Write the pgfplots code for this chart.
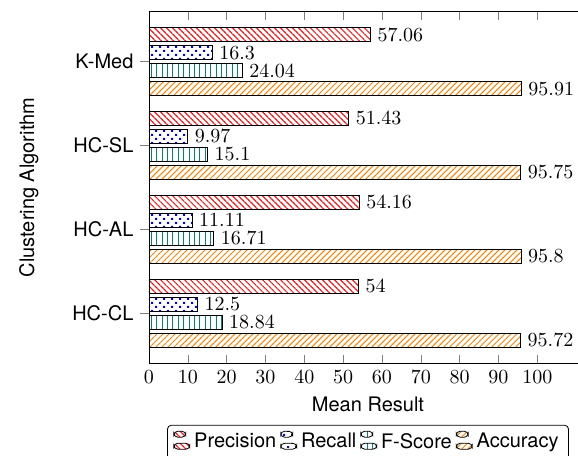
\documentclass[border=0pt]{standalone}
\usepackage{fontspec}
\setmainfont{TeX Gyre Heros}
\usepackage{pgfplots}
\pgfplotsset{compat=1.18}
\usetikzlibrary{patterns,patterns.meta}
\begin{document}
\begin{tikzpicture}
\begin{axis}[
  name=ax,
  scale only axis,
  width=219pt, height=175.8pt,
  xbar, bar width=7pt,
  y dir=reverse,
  xmin=0, xmax=112.8,
  ymin=-0.595, ymax=3.595,
  xtick={0,10,...,100},
  ytick={0,1,2,3},
  ytick align=outside,
  yticklabels={K-Med,HC-SL,HC-AL,HC-CL},
  xlabel={Mean Result},
  ylabel={Clustering Algorithm},
  ylabel shift=10pt,
  nodes near coords,
  nodes near coords align={horizontal},
  reverse legend,
  legend style={at={(0.5,-0.175)}, anchor=north, legend columns=-1, rounded corners=2pt},
]
\addplot[draw=black, pattern color=orange, pattern={Lines[angle=45,distance=2.12pt,line width=0.5pt]}] coordinates {(95.91,0) (95.75,1) (95.8,2) (95.72,3)};
\addplot[draw=black, pattern color=teal, pattern={Lines[angle=90,distance=2.7pt,line width=0.5pt]}] coordinates {(24.04,0) (15.1,1) (16.71,2) (18.84,3)};
\addplot[draw=black, pattern color=blue, pattern={Dots[angle=45,distance=2.83pt,radius=0.7pt]}] coordinates {(16.3,0) (9.97,1) (11.11,2) (12.5,3)};
\addplot[draw=black, pattern color=red, pattern={Lines[angle=-45,distance=2.12pt,line width=0.5pt]}] coordinates {(57.06,0) (51.43,1) (54.16,2) (54,3)};
\legend{Accuracy,F-Score,Recall,Precision}
\end{axis}
\pgfresetboundingbox
\useasboundingbox ([xshift=-74.5pt,yshift=-45.85pt]ax.south west) rectangle ([xshift=-4.5pt,yshift=5.85pt]ax.north east);
\end{tikzpicture}
\end{document}
